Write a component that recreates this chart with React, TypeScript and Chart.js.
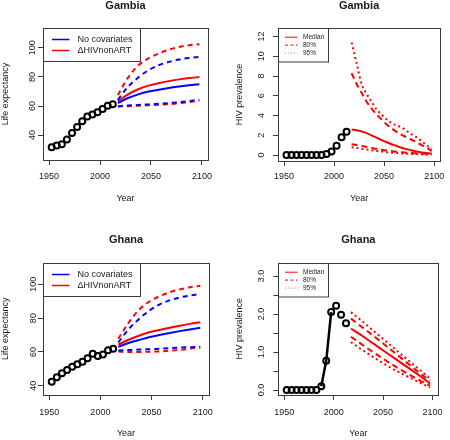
import React, { useEffect, useRef } from "react";
import { Chart, registerables } from "chart.js";

Chart.register(...registerables);

const FONT = '"Liberation Sans", Arial, Helvetica, sans-serif';
const BLUE = "#0000FF";
const RED = "#FF0000";
const INK = "#1a1a1a";
const FRAME = "#3a3a3a";

// ---------- data ----------
const obsYears = [1952.5, 1957.5, 1962.5, 1967.5, 1972.5, 1977.5, 1982.5, 1987.5, 1992.5, 1997.5, 2002.5, 2007.5, 2012.5];
const projYears10 = [2017.5, 2027.5, 2037.5, 2047.5, 2057.5, 2067.5, 2077.5, 2087.5, 2097.5];
const projYears5 = [2017.5, 2022.5, 2027.5, 2032.5, 2037.5, 2042.5, 2047.5, 2052.5, 2057.5, 2062.5, 2067.5, 2072.5, 2077.5, 2082.5, 2087.5, 2092.5, 2097.5];
const xTickValues = [1950, 2000, 2050, 2100];

// Gambia life expectancy
const gambiaLE = [31.6, 32.9, 33.8, 37.0, 41.4, 45.5, 49.6, 52.8, 54.1, 55.7, 58.0, 60.1, 61.2];
const gambiaNoCovMedian = [62.0, 65.5, 68.0, 69.9, 71.2, 72.4, 73.4, 74.3, 75.0];
const gambiaNoCovUpper = [64.2, 73.2, 79.6, 84.5, 88.0, 90.3, 92.0, 93.0, 93.7];
const gambiaNoCovLower = [59.9, 60.3, 60.7, 61.1, 61.5, 62.0, 62.6, 63.4, 64.3];
const gambiaHivMedian = [63.2, 68.0, 71.5, 74.0, 75.7, 77.1, 78.3, 79.2, 79.9];
const gambiaHivUpper = [67.5, 79.5, 87.8, 92.7, 96.0, 98.7, 100.6, 101.8, 102.5];
const gambiaHivLower = [59.6, 59.9, 60.2, 60.5, 60.9, 61.3, 61.9, 62.7, 63.6];

// Ghana life expectancy
const ghanaLE = [42.4, 45.0, 47.3, 49.3, 51.2, 52.7, 54.2, 56.2, 58.9, 57.6, 58.4, 61.0, 61.9];
const ghanaNoCovMedian = [63.0, 65.3, 67.0, 68.7, 70.0, 71.2, 72.3, 73.3, 74.3];
const ghanaNoCovUpper = [65.6, 73.4, 79.4, 84.3, 88.0, 90.5, 92.2, 93.4, 94.3];
const ghanaNoCovLower = [60.8, 61.1, 61.4, 61.6, 61.9, 62.2, 62.5, 62.8, 63.1];
const ghanaHivMedian = [64.3, 67.2, 69.6, 71.6, 73.0, 74.3, 75.5, 76.6, 77.5];
const ghanaHivUpper = [67.8, 77.2, 84.8, 89.7, 92.9, 95.3, 97.0, 98.3, 99.2];
const ghanaHivLower = [60.2, 60.0, 60.0, 60.1, 60.3, 60.7, 61.2, 61.9, 62.6];

// Gambia HIV prevalence
const gambiaHIV = [0, 0, 0, 0, 0, 0, 0, 0, 0.1, 0.35, 0.95, 1.8, 2.35];
const gambiaHivProjMedian = [2.58, 2.52, 2.4, 2.22, 2.0, 1.76, 1.52, 1.3, 1.1, 0.92, 0.74, 0.6, 0.47, 0.36, 0.27, 0.2, 0.15];
const gambiaHivProj80Up = [8.3, 7.2, 6.3, 5.4, 4.7, 4.1, 3.6, 3.1, 2.7, 2.35, 2.05, 1.8, 1.55, 1.3, 1.0, 0.75, 0.4];
const gambiaHivProj80Low = [1.1, 1.02, 0.93, 0.83, 0.73, 0.63, 0.54, 0.46, 0.39, 0.33, 0.28, 0.24, 0.21, 0.18, 0.15, 0.13, 0.11];
const gambiaHivProj95Up = [11.4, 9.3, 7.2, 6.2, 5.4, 4.6, 4.1, 3.6, 3.25, 3.0, 2.8, 2.45, 2.1, 1.8, 1.4, 1.0, 0.6];
const gambiaHivProj95Low = [0.8, 0.72, 0.64, 0.56, 0.48, 0.41, 0.35, 0.29, 0.24, 0.2, 0.17, 0.14, 0.12, 0.1, 0.08, 0.07, 0.06];

// Ghana HIV prevalence
const ghanaHIV = [0, 0, 0, 0, 0, 0, 0, 0.1, 0.77, 2.05, 2.22, 1.98, 1.76];
const ghanaHivProjMedian = [1.62, 1.45, 1.27, 1.09, 0.91, 0.73, 0.55, 0.37, 0.17];
const ghanaHivProj80Up = [1.88, 1.68, 1.48, 1.28, 1.07, 0.86, 0.65, 0.44, 0.24];
const ghanaHivProj80Low = [1.4, 1.22, 1.04, 0.87, 0.7, 0.54, 0.39, 0.25, 0.11];
const ghanaHivProj95Up = [2.05, 1.84, 1.62, 1.4, 1.18, 0.96, 0.74, 0.52, 0.3];
const ghanaHivProj95Low = [1.26, 1.08, 0.91, 0.75, 0.59, 0.45, 0.32, 0.19, 0.07];

// axis ticks
const leYTicks = [40, 60, 80, 100];
const leYLabels = ["40", "60", "80", "100"];
const gambiaHivYTicks = [0, 2, 4, 6, 8, 10, 12];
const gambiaHivYLabels = ["0", "2", "4", "6", "8", "10", "12"];
const ghanaHivYTicks = [0, 0.5, 1, 1.5, 2, 2.5, 3];
const ghanaHivYLabels = ["0.0", "", "1.0", "", "2.0", "", "3.0"];

const leLegendLabels = ["No covariates", "\u0394HIVnonART"];
const hivLegendLabels = ["Median", "80%", "95%"];

// ---------- helpers ----------
const pts = (xs: number[], ys: number[]) => ys.map((y, i) => ({ x: xs[i], y }));

const obsDataset = (ys: number[]) => ({
  data: pts(obsYears, ys),
  showLine: false,
  pointStyle: "circle",
  pointRadius: 3,
  pointBorderWidth: 2,
  pointBorderColor: "#000",
  pointBackgroundColor: "rgba(0,0,0,0)",
  borderColor: "#000",
  order: 0,
});

const projDataset = (xs: number[], ys: number[], color: string, dash: number[], width = 2) => ({
  data: pts(xs, ys),
  borderColor: color,
  borderWidth: width,
  borderDash: dash,
  borderCapStyle: "butt",
  pointRadius: 0,
  cubicInterpolationMode: "monotone",
  fill: false,
  order: 1,
});

const DASH = [5, 4];
const DASH80 = [6, 4];
const DOT = [2, 3];

type LegendItem = { label: string; color: string; dash: number[] };

type PanelSpec = {
  left: number;
  top: number;
  box: { left: number; right: number; top: number; bottom: number };
  title: string;
  titleY: number;
  yTitle: string;
  yTitleX: number;
  yearY: number;
  xLabelY: number;
  yLabelGap: number;
  yMin: number;
  yMax: number;
  yTicks: number[];
  yLabels: string[];
  datasets: any[];
  legend: {
    items: LegendItem[];
    w: number;
    h: number;
    rows: number[];
    lx0: number;
    lx1: number;
    tx: number;
    size: number;
    lineWidth: number;
  };
};

const W = 225;
const H = 220;

const framePlugin = {
  id: "frame",
  afterDraw(chart: any, _args: any, opts: any) {
    const { ctx, chartArea: a } = chart;
    ctx.save();
    // box
    ctx.strokeStyle = FRAME;
    ctx.lineWidth = 1;
    ctx.setLineDash([]);
    ctx.strokeRect(Math.round(a.left) + 0.5, Math.round(a.top) + 0.5, Math.round(a.right - a.left), Math.round(a.bottom - a.top));

    // title
    ctx.fillStyle = INK;
    ctx.font = `bold 11px ${FONT}`;
    ctx.textAlign = "center";
    ctx.textBaseline = "middle";
    ctx.fillText(opts.title, (a.left + a.right) / 2, opts.titleY);

    // rotated y tick labels
    const ys = chart.scales.y;
    ctx.font = `9px ${FONT}`;
    ys.ticks.forEach((t: any, i: number) => {
      const label = opts.yLabels[i];
      if (!label) return;
      const py = ys.getPixelForValue(t.value);
      ctx.save();
      ctx.translate(a.left - opts.yLabelGap, py);
      ctx.rotate(-Math.PI / 2);
      ctx.fillText(label, 0, 0);
      ctx.restore();
    });

    // legend
    const lg = opts.legend;
    const lx = Math.round(a.left) + 0.5;
    const ly = Math.round(a.top) + 0.5;
    ctx.fillStyle = "#fff";
    ctx.fillRect(lx, ly, lg.w, lg.h);
    ctx.strokeStyle = FRAME;
    ctx.lineWidth = 1;
    ctx.strokeRect(lx, ly, lg.w, lg.h);
    ctx.font = `${lg.size}px ${FONT}`;
    ctx.textAlign = "left";
    ctx.textBaseline = "middle";
    lg.items.forEach((it: LegendItem, i: number) => {
      const y = ly + lg.rows[i];
      ctx.strokeStyle = it.color;
      ctx.lineWidth = lg.lineWidth;
      ctx.setLineDash(it.dash);
      ctx.beginPath();
      ctx.moveTo(lx + lg.lx0, y);
      ctx.lineTo(lx + lg.lx1, y);
      ctx.stroke();
      ctx.setLineDash([]);
      ctx.fillStyle = INK;
      ctx.fillText(it.label, lx + lg.tx, y);
    });
    ctx.restore();
  },
};

function Panel({ spec }: { spec: PanelSpec }) {
  const ref = useRef<HTMLCanvasElement | null>(null);
  useEffect(() => {
    if (!ref.current) return;
    const b = spec.box;
    const lh = 9 * 1.2;
    const chart = new Chart(ref.current, {
      type: "line",
      data: { datasets: spec.datasets },
      plugins: [framePlugin as any],
      options: {
        responsive: false,
        animation: false,
        devicePixelRatio: 1,
        layout: { padding: { left: 0, top: b.top, right: W - b.right, bottom: 0 } },
        plugins: {
          legend: { display: false },
          tooltip: { enabled: false },
          title: { display: false },
          frame: {
            title: spec.title,
            titleY: spec.titleY,
            yLabels: spec.yLabels,
            yLabelGap: spec.yLabelGap,
            legend: spec.legend,
          },
        } as any,
        scales: {
          x: {
            type: "linear",
            min: 1944,
            max: 2106,
            afterBuildTicks: (s: any) => {
              s.ticks = xTickValues.map((v) => ({ value: v }));
            },
            afterFit: (s: any) => {
              s.height = H - b.bottom;
            },
            border: { display: false },
            grid: { drawOnChartArea: false, drawTicks: true, tickLength: 5, color: FRAME, lineWidth: 1 },
            ticks: {
              color: INK,
              font: { family: FONT, size: 9 },
              padding: spec.xLabelY - b.bottom - 5 - lh / 2,
              maxRotation: 0,
              autoSkip: false,
              callback: (v: any) => String(v),
            },
            title: {
              display: true,
              text: "Year",
              color: INK,
              font: { family: FONT, size: 9 },
              padding: { top: 0, bottom: Math.max(0, H - spec.yearY - lh / 2) },
            },
          },
          y: {
            type: "linear",
            min: spec.yMin,
            max: spec.yMax,
            afterBuildTicks: (s: any) => {
              s.ticks = spec.yTicks.map((v) => ({ value: v }));
            },
            afterFit: (s: any) => {
              s.width = b.left;
            },
            border: { display: false },
            grid: { drawOnChartArea: false, drawTicks: true, tickLength: 5, color: FRAME, lineWidth: 1 },
            ticks: { display: false },
            title: {
              display: true,
              text: spec.yTitle,
              color: INK,
              font: { family: FONT, size: 9 },
              padding: { top: Math.max(0, spec.yTitleX - lh / 2), bottom: 0 },
            },
          },
        },
      } as any,
    });
    return () => chart.destroy();
  }, [spec]);
  return (
    <canvas
      ref={ref}
      width={W}
      height={H}
      style={{ position: "absolute", left: spec.left, top: spec.top, width: W, height: H }}
    />
  );
}

const leLegend = (size = 9) => ({
  items: [
    { label: leLegendLabels[0], color: BLUE, dash: [] },
    { label: leLegendLabels[1], color: RED, dash: [] },
  ],
  w: 97,
  h: 33,
  rows: [11, 22],
  lx0: 8.5,
  lx1: 26,
  tx: 34,
  size,
  lineWidth: 1.5,
});

const hivLegend = () => ({
  items: [
    { label: hivLegendLabels[0], color: RED, dash: [] },
    { label: hivLegendLabels[1], color: RED, dash: [3, 2.5] },
    { label: hivLegendLabels[2], color: "#ff6a6a", dash: [1, 2] },
  ],
  w: 50,
  h: 33.5,
  rows: [8.7, 16.6, 24.6],
  lx0: 6.5,
  lx1: 19,
  tx: 24.5,
  size: 6.5,
  lineWidth: 1,
});

const leDatasets = (obs: number[], ncM: number[], ncU: number[], ncL: number[], hM: number[], hU: number[], hL: number[]) => [
  projDataset(projYears10, ncU, BLUE, DASH),
  projDataset(projYears10, ncL, BLUE, DASH),
  projDataset(projYears10, hU, RED, DASH),
  projDataset(projYears10, hL, RED, DASH),
  projDataset(projYears10, ncM, BLUE, []),
  projDataset(projYears10, hM, RED, []),
  obsDataset(obs),
];

const panels: PanelSpec[] = [
  {
    left: 0,
    top: 0,
    box: { left: 43, right: 208, top: 28, bottom: 160 },
    title: "Gambia",
    titleY: 6,
    yTitle: "Life expectancy",
    yTitleX: 5,
    yearY: 199,
    xLabelY: 176.7,
    yLabelGap: 10,
    yMin: 22.9,
    yMax: 113.6,
    yTicks: leYTicks,
    yLabels: leYLabels,
    datasets: leDatasets(gambiaLE, gambiaNoCovMedian, gambiaNoCovUpper, gambiaNoCovLower, gambiaHivMedian, gambiaHivUpper, gambiaHivLower),
    legend: leLegend(),
  },
  {
    left: 225,
    top: 0,
    box: { left: 53, right: 219, top: 28, bottom: 161 },
    title: "Gambia",
    titleY: 6,
    yTitle: "HIV prevalence",
    yTitleX: 15,
    yearY: 199,
    xLabelY: 177,
    yLabelGap: 16.5,
    yMin: -0.6,
    yMax: 12.86,
    yTicks: gambiaHivYTicks,
    yLabels: gambiaHivYLabels,
    datasets: [
      projDataset(projYears5, gambiaHivProj95Up, RED, DOT),
      projDataset(projYears5, gambiaHivProj95Low, RED, DOT),
      projDataset(projYears5, gambiaHivProj80Up, RED, DASH80),
      projDataset(projYears5, gambiaHivProj80Low, RED, DASH80),
      projDataset(projYears5, gambiaHivProjMedian, RED, []),
      obsDataset(gambiaHIV),
    ],
    legend: hivLegend(),
  },
  {
    left: 0,
    top: 220,
    box: { left: 43, right: 209, top: 42.7, bottom: 175 },
    title: "Ghana",
    titleY: 20,
    yTitle: "Life expectancy",
    yTitleX: 5,
    yearY: 213.3,
    xLabelY: 192.7,
    yLabelGap: 9.7,
    yMin: 34.5,
    yMax: 112.8,
    yTicks: leYTicks,
    yLabels: leYLabels,
    datasets: leDatasets(ghanaLE, ghanaNoCovMedian, ghanaNoCovUpper, ghanaNoCovLower, ghanaHivMedian, ghanaHivUpper, ghanaHivLower),
    legend: leLegend(),
  },
  {
    left: 225,
    top: 220,
    box: { left: 53.3, right: 219, top: 42.7, bottom: 175 },
    title: "Ghana",
    titleY: 20,
    yTitle: "HIV prevalence",
    yTitleX: 15,
    yearY: 213.3,
    xLabelY: 192.7,
    yLabelGap: 16.6,
    yMin: -0.13,
    yMax: 3.35,
    yTicks: ghanaHivYTicks,
    yLabels: ghanaHivYLabels,
    datasets: [
      projDataset(projYears10, ghanaHivProj95Up, RED, DOT),
      projDataset(projYears10, ghanaHivProj95Low, RED, DOT),
      projDataset(projYears10, ghanaHivProj80Up, RED, DASH80),
      projDataset(projYears10, ghanaHivProj80Low, RED, DASH80),
      projDataset(projYears10, ghanaHivProjMedian, RED, []),
      {
        data: pts(obsYears.slice(7, 10), ghanaHIV.slice(7, 10)),
        borderColor: "#000",
        borderWidth: 2.5,
        pointRadius: 0,
        tension: 0,
        order: 1,
      },
      obsDataset(ghanaHIV),
    ],
    legend: hivLegend(),
  },
];

export default function App() {
  return (
    <div style={{ position: "fixed", left: 0, top: 0, width: 450, height: 440, background: "#fff" }}>
      {panels.map((p, i) => (
        <Panel key={i} spec={p} />
      ))}
    </div>
  );
}
